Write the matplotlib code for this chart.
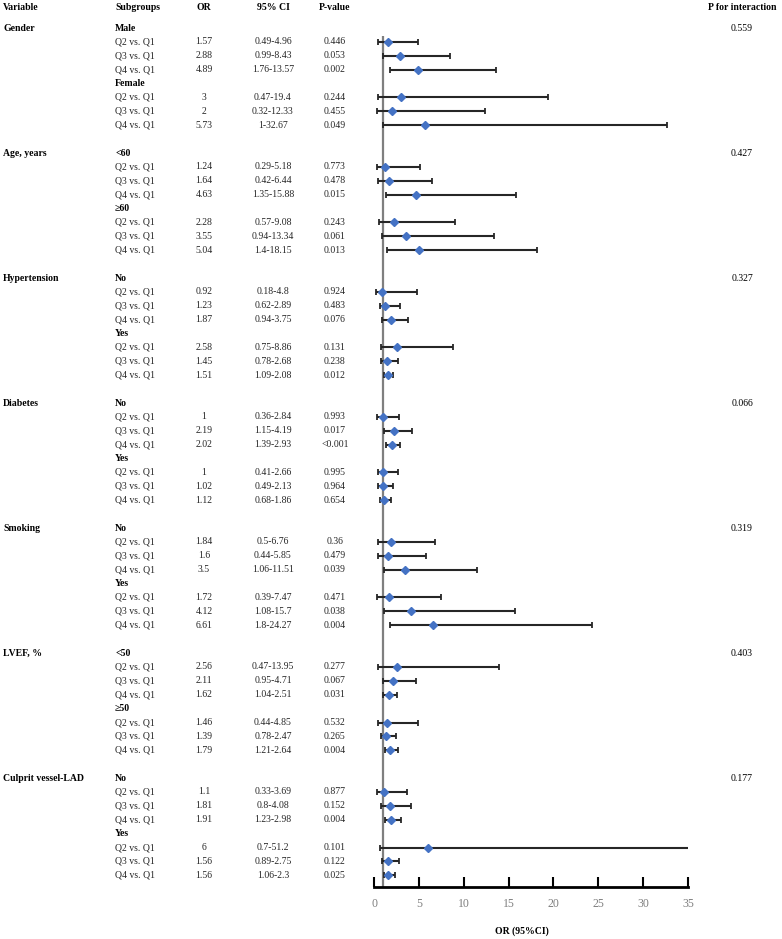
import matplotlib.pyplot as plt
import matplotlib.transforms as mtransforms
import numpy as np

plt.rcParams['font.family'] = ['Liberation Serif', 'DejaVu Serif']

# --- data ---
groups = ['Gender', 'Age, years', 'Hypertension', 'Diabetes', 'Smoking', 'LVEF, %', 'Culprit vessel-LAD']
subgroups = [['Male', 'Female'], ['<60', '≥60'], ['No', 'Yes'], ['No', 'Yes'],
             ['No', 'Yes'], ['<50', '≥50'], ['No', 'Yes']]
comparisons = ['Q2 vs. Q1', 'Q3 vs. Q1', 'Q4 vs. Q1']
p_interaction = ['0.559', '0.427', '0.327', '0.066', '0.319', '0.403', '0.177']

or_vals = [1.57, 2.88, 4.89, 3, 2, 5.73,
           1.24, 1.64, 4.63, 2.28, 3.55, 5.04,
           0.92, 1.23, 1.87, 2.58, 1.45, 1.51,
           1, 2.19, 2.02, 1, 1.02, 1.12,
           1.84, 1.6, 3.5, 1.72, 4.12, 6.61,
           2.56, 2.11, 1.62, 1.46, 1.39, 1.79,
           1.1, 1.81, 1.91, 6, 1.56, 1.56]
ci_low = [0.49, 0.99, 1.76, 0.47, 0.32, 1,
          0.29, 0.42, 1.35, 0.57, 0.94, 1.4,
          0.18, 0.62, 0.94, 0.75, 0.78, 1.09,
          0.36, 1.15, 1.39, 0.41, 0.49, 0.68,
          0.5, 0.44, 1.06, 0.39, 1.08, 1.8,
          0.47, 0.95, 1.04, 0.44, 0.78, 1.21,
          0.33, 0.8, 1.23, 0.7, 0.89, 1.06]
ci_high = [4.96, 8.43, 13.57, 19.4, 12.33, 32.67,
           5.18, 6.44, 15.88, 9.08, 13.34, 18.15,
           4.8, 2.89, 3.75, 8.86, 2.68, 2.08,
           2.84, 4.19, 2.93, 2.66, 2.13, 1.86,
           6.76, 5.85, 11.51, 7.47, 15.7, 24.27,
           13.95, 4.71, 2.51, 4.85, 2.47, 2.64,
           3.69, 4.08, 2.98, 51.2, 2.75, 2.3]
or_text = ['1.57', '2.88', '4.89', '3', '2', '5.73',
           '1.24', '1.64', '4.63', '2.28', '3.55', '5.04',
           '0.92', '1.23', '1.87', '2.58', '1.45', '1.51',
           '1', '2.19', '2.02', '1', '1.02', '1.12',
           '1.84', '1.6', '3.5', '1.72', '4.12', '6.61',
           '2.56', '2.11', '1.62', '1.46', '1.39', '1.79',
           '1.1', '1.81', '1.91', '6', '1.56', '1.56']
ci_text = ['0.49-4.96', '0.99-8.43', '1.76-13.57', '0.47-19.4', '0.32-12.33', '1-32.67',
           '0.29-5.18', '0.42-6.44', '1.35-15.88', '0.57-9.08', '0.94-13.34', '1.4-18.15',
           '0.18-4.8', '0.62-2.89', '0.94-3.75', '0.75-8.86', '0.78-2.68', '1.09-2.08',
           '0.36-2.84', '1.15-4.19', '1.39-2.93', '0.41-2.66', '0.49-2.13', '0.68-1.86',
           '0.5-6.76', '0.44-5.85', '1.06-11.51', '0.39-7.47', '1.08-15.7', '1.8-24.27',
           '0.47-13.95', '0.95-4.71', '1.04-2.51', '0.44-4.85', '0.78-2.47', '1.21-2.64',
           '0.33-3.69', '0.8-4.08', '1.23-2.98', '0.7-51.2', '0.89-2.75', '1.06-2.3']
p_text = ['0.446', '0.053', '0.002', '0.244', '0.455', '0.049',
          '0.773', '0.478', '0.015', '0.243', '0.061', '0.013',
          '0.924', '0.483', '0.076', '0.131', '0.238', '0.012',
          '0.993', '0.017', '<0.001', '0.995', '0.964', '0.654',
          '0.36', '0.479', '0.039', '0.471', '0.038', '0.004',
          '0.277', '0.067', '0.031', '0.532', '0.265', '0.004',
          '0.877', '0.152', '0.004', '0.101', '0.122', '0.025']

# --- row layout: each group = subgroup header + 3 rows, twice, then a blank row ---
data_rows = []
sub_rows = []
group_rows = []
r = 0
for g in range(len(groups)):
    group_rows.append(r)
    for s in range(2):
        sub_rows.append(r)
        for c in range(3):
            data_rows.append(r + 1 + c)
        r += 4
    r += 1
data_rows = np.array(data_rows)

# --- figure ---
W, H = 782, 939
fig = plt.figure(figsize=(W / 100, H / 100), dpi=100)
ax_left, ax_right = 374 / W, 688 / W
ax_bottom = 1 - 887 / H
ax = fig.add_axes([ax_left, ax_bottom, ax_right - ax_left, 1 - ax_bottom])

row_px = 13.89
first_px = 28
ax.set_ylim((887 - first_px) / row_px, -first_px / row_px)
ax.set_xlim(0, 35)

ax.vlines(1, 0.6, (887 - first_px) / row_px, color='#7f7f7f', lw=1.6, zorder=1)

ors = np.array(or_vals)
lo = np.array(ci_low)
hi = np.array(ci_high)
ax.errorbar(ors, data_rows, xerr=[ors - lo, hi - ors], fmt='none',
            ecolor='#262626', elinewidth=1.5, capsize=2, capthick=1.3, zorder=2)
ax.plot(ors, data_rows, 'D', color='#4472C4', markersize=4.5, zorder=3)

for sp in ['top', 'right', 'left']:
    ax.spines[sp].set_visible(False)
ax.spines['bottom'].set_linewidth(2)
ax.set_yticks([])
ax.set_xticks(np.arange(0, 36, 5))
ax.tick_params(axis='x', direction='in', length=7, width=1.5, pad=8,
               labelsize=8.5, labelcolor='#7f7f7f')
ax.patch.set_alpha(0)

# --- table text ---
trans = mtransforms.blended_transform_factory(fig.transFigure, ax.transData)
fs = 7
x_var = 3 / W
x_sub = 115 / W
x_or = 204 / W
x_ci = 273 / W
x_p = 335 / W
x_pint = 742 / W
head_row = -1.45

for x, txt, ha in [(x_var, 'Variable', 'left'), (x_sub, 'Subgroups', 'left'),
                   (x_or, 'OR', 'center'), (x_ci, '95% CI', 'center'),
                   (x_p, 'P-value', 'center'), (x_pint, 'P for interaction', 'center')]:
    ax.text(x, head_row, txt, transform=trans, ha=ha, va='center',
            fontsize=fs, fontweight='bold', clip_on=False)

for g, gr in enumerate(group_rows):
    ax.text(x_var, gr, groups[g], transform=trans, ha='left', va='center',
            fontsize=fs, fontweight='bold', clip_on=False)
    ax.text(x_pint, gr, p_interaction[g], transform=trans, ha='center', va='center',
            fontsize=fs, clip_on=False)

flat_subs = [s for pair in subgroups for s in pair]
for i, sr in enumerate(sub_rows):
    ax.text(x_sub, sr, flat_subs[i], transform=trans, ha='left', va='center',
            fontsize=fs, fontweight='bold', clip_on=False)

for i, dr in enumerate(data_rows):
    ax.text(x_sub, dr, comparisons[i % 3], transform=trans, ha='left', va='center',
            fontsize=fs, color='#262626', clip_on=False)
    ax.text(x_or, dr, or_text[i], transform=trans, ha='center', va='center',
            fontsize=fs, color='#262626', clip_on=False)
    ax.text(x_ci, dr, ci_text[i], transform=trans, ha='center', va='center',
            fontsize=fs, color='#262626', clip_on=False)
    ax.text(x_p, dr, p_text[i], transform=trans, ha='center', va='center',
            fontsize=fs, color='#262626', clip_on=False)

fig.text(522 / W, 1 - 931 / H, 'OR (95%CI)', ha='center', va='center',
         fontsize=fs, fontweight='bold')

fig.savefig('out.png', dpi=100)
